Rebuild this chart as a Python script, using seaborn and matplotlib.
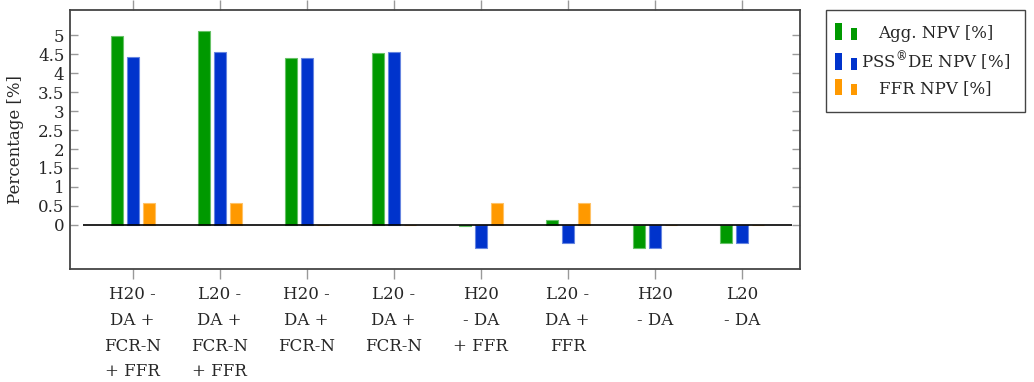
import pandas as pd
import numpy as np
import seaborn as sns
import matplotlib.pyplot as plt
from matplotlib.patches import Patch, Rectangle
from matplotlib.legend_handler import HandlerBase
from matplotlib.transforms import Affine2D

# Data
scenarios = ['H20 -\nDA +\nFCR-N\n+ FFR', 'L20 -\nDA +\nFCR-N\n+ FFR', 'H20 -\nDA +\nFCR-N',
             'L20 -\nDA +\nFCR-N', 'H20\n- DA\n+ FFR', 'L20 -\nDA +\nFFR', 'H20\n- DA', 'L20\n- DA']
agg_npv = [4.97, 5.10, 4.40, 4.53, -0.04, 0.12, -0.60, -0.47]
pss_npv = [4.41, 4.55, 4.40, 4.55, -0.60, -0.47, -0.60, -0.47]
ffr_npv = [0.57, 0.57, 0.01, 0.01, 0.57, 0.57, 0.01, 0.01]
series = ['Agg. NPV [%]', 'PSS$^{®}$DE NPV [%]', 'FFR NPV [%]']
colors = ['#009900', '#0033cc', '#ff9900']
edges = ['#66c266', '#6685e0', '#ffc266']
yticks = [0, 0.5, 1, 1.5, 2, 2.5, 3, 3.5, 4, 4.5, 5]

df = pd.DataFrame({
    'scenario': scenarios * 3,
    'value': agg_npv + pss_npv + ffr_npv,
    'series': [series[0]] * 8 + [series[1]] * 8 + [series[2]] * 8,
})

sns.set_theme(style='white')
plt.rcParams['font.family'] = ['DejaVu Serif']
plt.rcParams['mathtext.fontset'] = 'dejavuserif'


class TwoBarHandler(HandlerBase):
    # pgfplots-like ybar legend icon: two small bars (units are points)
    def create_artists(self, legend, orig_handle, xdescent, ydescent, width, height, fontsize, trans):
        c = orig_handle.get_facecolor()
        px = 0.72
        x0 = -xdescent - 6 * px
        y0 = -ydescent - 0.2 * height
        r1 = Rectangle((x0, y0), 7.5 * px, height * 1.45, facecolor=c, edgecolor='none', transform=trans)
        r2 = Rectangle((x0 + 16 * px, y0), 6.5 * px, height * 1.0, facecolor=c,
                       edgecolor='none', transform=trans)
        return [r1, r2]


fig = plt.figure(figsize=(10.34, 3.82), dpi=100)
ax = fig.add_axes([0.0677, 0.2958, 0.7060, 0.6780])

sns.barplot(data=df, x='scenario', y='value', hue='series', palette=colors,
            width=0.55, gap=0.25, ax=ax, legend=False, saturation=1, linewidth=0.8)
for i, cont in enumerate(ax.containers):
    for bar in cont:
        bar.set_edgecolor(edges[i])

ax.hlines(0, -0.57, 7.58, color='black', lw=1.2, zorder=5)
ax.set_xlim(-0.72, 7.67)
ax.set_ylim(-1.16, 5.66)
ax.set_yticks(yticks, [f'{v:g}' for v in yticks])
ax.set_xlabel('')
ax.set_ylabel('Percentage [%]', fontsize=12, labelpad=10)

for s in ax.spines.values():
    s.set_color('#444444')
    s.set_linewidth(1.3)
ax.tick_params(axis='y', direction='in', left=True, right=True, length=5.5, width=1,
               color='#999999', labelsize=12, pad=4)
ax.tick_params(axis='x', direction='out', bottom=True, top=True, length=7.5, width=1,
               color='#999999', labelsize=12, pad=5)
for t in ax.get_xticklabels():
    t.set_linespacing(1.66)

handles = [Patch(facecolor=c) for c in colors]
leg = ax.legend(handles, series, handler_map={Patch: TwoBarHandler()},
                loc='upper left', bbox_to_anchor=(826 / 1034, 1 - 10 / 382),
                bbox_transform=fig.transFigure, fontsize=12, frameon=True, fancybox=False,
                edgecolor='#444444', framealpha=1, borderaxespad=0, borderpad=0.88,
                handlelength=1.0, handletextpad=0.2, labelspacing=0.45)
leg.get_frame().set_linewidth(1.0)

# center legend texts like the original
fig.canvas.draw()
r = fig.canvas.get_renderer()
texts = leg.get_texts()
ws = [t.get_window_extent(r).width for t in texts]
W = max(ws)
for t, w in zip(texts, ws):
    t.set_transform(t.get_transform() + Affine2D().translate((W - w) / 2, 0))

fig.savefig('out.png', dpi=100)
